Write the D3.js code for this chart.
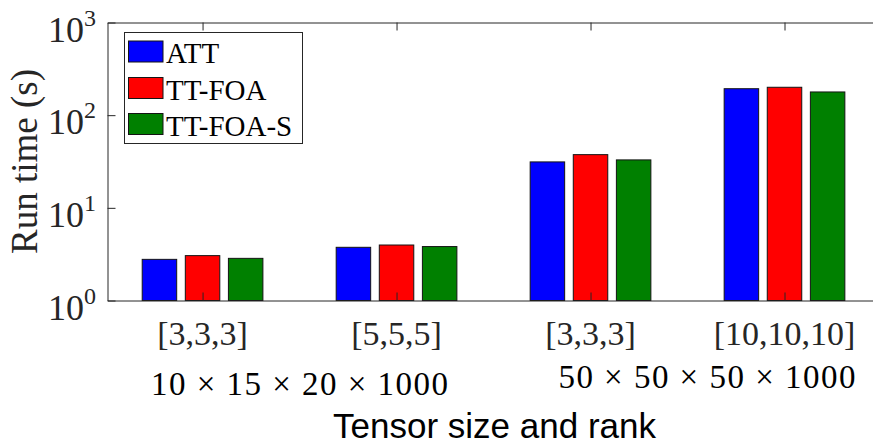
<!DOCTYPE html>
<html>
<head>
<meta charset="utf-8">
<script src="https://cdn.jsdelivr.net/npm/d3@7"></script>
<style>
  html, body { margin: 0; padding: 0; background: #fff; }
  svg { display: block; }
</style>
</head>
<body>
<svg id="chart" width="873" height="448"></svg>
<script>
// Run time of each method per tensor size / TT-rank setting
const rankLabels = ["[3,3,3]", "[5,5,5]", "[3,3,3]", "[10,10,10]"];
const seriesNames = ["ATT", "TT-FOA", "TT-FOA-S"];
const seriesColors = ["#0000ff", "#ff0000", "#008000"];
const attTimes = [2.78, 3.75, 31.3, 193];
const ttfoaTimes = [3.05, 3.97, 37.5, 200];
const ttfoaSTimes = [2.85, 3.82, 32.9, 178];
const yTickExponents = [0, 1, 2, 3];
const sizeLabels = ["10 × 15 × 20 × 1000", "50 × 50 × 50 × 1000"];
const xTitle = "Tensor size and rank";
const yTitle = "Run time (s)";

const seriesValues = [attTimes, ttfoaTimes, ttfoaSTimes];
const rows = [];
seriesValues.forEach((vals, s) => vals.forEach((v, i) => rows.push({ s, i, v })));

const svg = d3.select("#chart");
const axisColor = "#262626";
const serif = "'Liberation Serif', 'Times New Roman', serif";
const sans = "'Liberation Sans', Arial, sans-serif";

// Scales: x in category units, y logarithmic seconds
const x = d3.scaleLinear().domain([0.51, 4.5]).range([107.5, 881.5]);
const y = d3.scaleLog().domain([1, 1000]).range([300.5, 22.5]);

// Grouped bar layout inside each category (group width 2/3, bar width 0.8 of slot)
const sub = d3.scaleBand().domain(d3.range(seriesNames.length))
  .range([-1 / 3, 1 / 3]).paddingInner(0.2).paddingOuter(0.1);
const barW = x(sub.bandwidth()) - x(0);

// Bars
svg.append("g").selectAll("rect").data(rows).join("rect")
  .attr("x", d => x(d.i + 1 + sub(d.s)))
  .attr("width", barW)
  .attr("y", d => y(d.v))
  .attr("height", d => y(1) - y(d.v))
  .attr("fill", d => seriesColors[d.s])
  .attr("stroke", "#141414")
  .attr("stroke-width", 1);

// Axes box with inward ticks
const catTicks = d3.range(1, rankLabels.length + 1);
const tickVals = yTickExponents.map(e => Math.pow(10, e));

function styleAxis(g) {
  g.select(".domain").attr("stroke", axisColor).attr("stroke-width", 1);
  g.selectAll(".tick line").attr("stroke", axisColor).attr("stroke-width", 1);
  g.selectAll(".tick text").remove();
}

svg.append("g").attr("transform", `translate(0,${y(1)})`)
  .call(d3.axisBottom(x).tickValues(catTicks).tickSizeInner(-8).tickSizeOuter(0))
  .call(styleAxis);
svg.append("g").attr("transform", `translate(0,${y(1000)})`)
  .call(d3.axisTop(x).tickValues(catTicks).tickSizeInner(-8).tickSizeOuter(0))
  .call(styleAxis);
svg.append("g").attr("transform", `translate(${x(0.51)},0)`)
  .call(d3.axisLeft(y).tickValues(tickVals).tickSizeInner(-8).tickSizeOuter(0))
  .call(styleAxis);
svg.append("g").attr("transform", `translate(${x(4.5)},0)`)
  .call(d3.axisRight(y).tickValues(tickVals).tickSizeInner(-8).tickSizeOuter(0))
  .call(styleAxis);

// Y tick labels as powers of ten
const yLab = svg.append("g").attr("fill", "#262626").attr("font-family", serif);
yTickExponents.forEach(e => {
  const t = yLab.append("text")
    .attr("x", 96)
    .attr("y", y(Math.pow(10, e)) + 19)
    .attr("text-anchor", "end");
  t.append("tspan").attr("font-size", 36).text("10");
  t.append("tspan").attr("font-size", 24).attr("dy", -16).text(String(e));
});

// X tick labels (TT-ranks)
svg.append("g").selectAll("text").data(rankLabels).join("text")
  .attr("x", (d, i) => x(i + 1))
  .attr("y", 345)
  .attr("text-anchor", "middle")
  .attr("font-family", serif)
  .attr("font-size", 34)
  .attr("fill", "#262626")
  .text(d => d);

// Tensor size labels, one under each pair of rank groups
const sizeX = [1.5, 3.6];
const sizeY = [395, 388];
svg.append("g").selectAll("text").data(sizeLabels).join("text")
  .attr("x", (d, i) => x(sizeX[i]))
  .attr("y", (d, i) => sizeY[i])
  .attr("text-anchor", "middle")
  .attr("font-family", serif)
  .attr("font-size", 33)
  .attr("fill", "#000")
  .attr("textLength", 297)
  .attr("lengthAdjust", "spacing")
  .text(d => d);

// Axis titles
svg.append("text")
  .attr("x", (x(0.51) + x(4.5)) / 2)
  .attr("y", 438)
  .attr("text-anchor", "middle")
  .attr("font-family", sans)
  .attr("font-size", 35)
  .attr("fill", "#000")
  .text(xTitle);

svg.append("text")
  .attr("transform", `translate(37,${(y(1) + y(1000)) / 2}) rotate(-90)`)
  .attr("text-anchor", "middle")
  .attr("font-family", serif)
  .attr("font-size", 37)
  .attr("fill", "#262626")
  .text(yTitle);

// Legend
const legend = svg.append("g");
legend.append("rect")
  .attr("x", 124.5).attr("y", 32.5)
  .attr("width", 178).attr("height", 111)
  .attr("fill", "#fff").attr("stroke", axisColor).attr("stroke-width", 1);
const rowY = [51.5, 88, 124];
seriesNames.forEach((name, s) => {
  legend.append("rect")
    .attr("x", 128.5).attr("y", rowY[s] - 10.5)
    .attr("width", 34.5).attr("height", 21)
    .attr("fill", seriesColors[s]).attr("stroke", "#141414").attr("stroke-width", 1);
  legend.append("text")
    .attr("x", 166).attr("y", rowY[s] + 11.5)
    .attr("font-family", serif).attr("font-size", 29)
    .attr("fill", "#000")
    .text(name);
});
</script>
</body>
</html>
